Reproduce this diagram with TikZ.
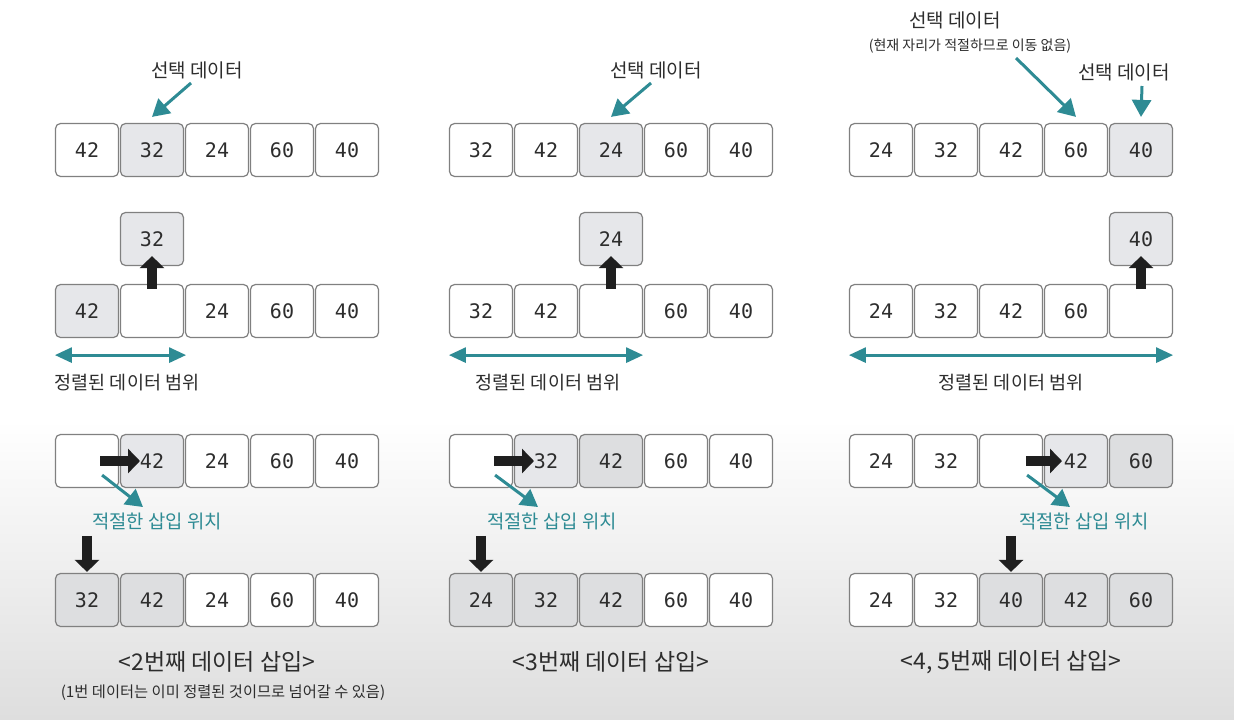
\documentclass[tikz,border=0pt]{standalone}
\usepackage{fontspec}
\setmainfont{Noto Sans CJK KR}
\newfontfamily\numfont{DejaVu Sans Mono}
\usetikzlibrary{arrows.meta}
\definecolor{tealline}{RGB}{46,139,148}
\definecolor{boxedge}{RGB}{128,128,128}
\definecolor{selfill}{RGB}{230,231,234}
\definecolor{sortfill}{RGB}{221,222,224}
\definecolor{inktext}{RGB}{45,45,45}
\tikzset{
  cell/.style={draw=boxedge, line width=1.2pt, rounded corners=5pt, fill=white,
    minimum width=63pt, minimum height=53pt, font=\numfont\fontsize{20}{20}\selectfont, text=inktext},
  selcell/.style={cell, fill=selfill},
  sortcell/.style={cell, fill=sortfill},
  blk/.style={-{Triangle[length=12pt,width=24pt]}, line width=10pt, draw=black!88},
  tealarr/.style={-{Triangle[length=17pt,width=19pt]}, line width=3pt, draw=tealline},
  rangearr/.style={{Triangle[length=17pt,width=15pt]}-{Triangle[length=17pt,width=15pt]}, line width=2.8pt, draw=tealline},
  lbl/.style={font=\fontsize{19}{19}\selectfont, text=inktext},
  rlbl/.style={font=\fontsize{18.5}{19}\selectfont, text=inktext},
  tlbl/.style={font=\fontsize{18.8}{19}\selectfont, text=tealline},
  note/.style={font=\fontsize{14}{15}\selectfont, text=inktext},
  titletext/.style={font=\fontsize{23}{24}\selectfont, text=inktext},
}
\begin{document}
\begin{tikzpicture}[x=1pt, y=-1pt]
% background
\fill[white] (0,0) rectangle (1234,720);
\shade[top color=white, bottom color=black!13] (0,420) rectangle (1234,720);
% 2nd insert
\begin{scope}
\foreach \v/\s [count=\i] in {42/cell,32/selcell,24/cell,60/cell,40/cell}
  \node[\s] (a\i) at (22+65*\i,150) {\v};
\node[lbl] (pick) at (197,70) {선택 데이터};
\coordinate (pickfrom) at (191,83);
\draw[tealarr] (pickfrom) -- ([yshift=6pt]a2.north);
\foreach \v/\s [count=\i] in {42/selcell,{}/cell,24/cell,60/cell,40/cell}
  \node[\s] (b\i) at (22+65*\i,311) {\v};
\node[selcell] (lift) at ([yshift=72pt]b2.center) {32};
\draw[blk] ([yshift=-5pt]b2.north) -- ([yshift=10pt]lift.south);
\draw[rangearr] ([yshift=-17pt]b1.south west) -- ([yshift=-17pt,xshift=2pt]b2.south east);
\node[rlbl] (range) at (127,383) {정렬된 데이터 범위};
\foreach \v/\s [count=\i] in {{}/cell,42/selcell,24/cell,60/cell,40/cell}
  \node[\s] (c\i) at (22+65*\i,461) {\v};
\draw[blk] ([xshift=13pt]c1.center) -- ([xshift=-12pt]c2.center);
\coordinate (fitto) at (143,507);
\draw[tealarr] ([xshift=-17pt,yshift=13pt]c1.south east) -- (fitto);
\node[tlbl] (fit) at (157,521) {적절한 삽입 위치};
\foreach \v/\s [count=\i] in {32/sortcell,42/sortcell,24/cell,60/cell,40/cell}
  \node[\s] (d\i) at (22+65*\i,600) {\v};
\draw[blk] ([yshift=37pt]d1.north) -- ([yshift=1pt]d1.north);
\node[titletext] (title) at (217,662) {<2번째 데이터 삽입>};
\node[note] (subnote) at (223,693) {\fontsize{15.3}{16}\selectfont(1번 데이터는 이미 정렬된 것이므로 넘어갈 수 있음)};
\end{scope}
% 3rd insert
\begin{scope}[xshift=394pt]
\foreach \v/\s [count=\i] in {32/cell,42/cell,24/selcell,60/cell,40/cell}
  \node[\s] (a\i) at (22+65*\i,150) {\v};
\node[lbl] (pick) at (262,70) {선택 데이터};
\coordinate (pickfrom) at (257,83);
\draw[tealarr] (pickfrom) -- ([yshift=6pt]a3.north);
\foreach \v/\s [count=\i] in {32/cell,42/cell,{}/cell,60/cell,40/cell}
  \node[\s] (b\i) at (22+65*\i,311) {\v};
\node[selcell] (lift) at ([yshift=72pt]b3.center) {24};
\draw[blk] ([yshift=-5pt]b3.north) -- ([yshift=10pt]lift.south);
\draw[rangearr] ([yshift=-17pt]b1.south west) -- ([yshift=-17pt]b3.south east);
\node[rlbl] (range) at (154,383) {정렬된 데이터 범위};
\foreach \v/\s [count=\i] in {{}/cell,32/selcell,42/sortcell,60/cell,40/cell}
  \node[\s] (c\i) at (22+65*\i,461) {\v};
\draw[blk] ([xshift=13pt]c1.center) -- ([xshift=-12pt]c2.center);
\coordinate (fitto) at (144,507);
\draw[tealarr] ([xshift=-18pt,yshift=13pt]c1.south east) -- (fitto);
\node[tlbl] (fit) at (158,521) {적절한 삽입 위치};
\foreach \v/\s [count=\i] in {24/sortcell,32/sortcell,42/sortcell,60/cell,40/cell}
  \node[\s] (d\i) at (22+65*\i,600) {\v};
\draw[blk] ([yshift=37pt]d1.north) -- ([yshift=1pt]d1.north);
\node[titletext] (title) at (217,662) {<3번째 데이터 삽입>};
\end{scope}
% 4th, 5th insert
\begin{scope}[xshift=794pt]
\foreach \v/\s [count=\i] in {24/cell,32/cell,42/cell,60/cell,40/selcell}
  \node[\s] (a\i) at (22+65*\i,150) {\v};
\node[lbl] (pick) at (161,20) {선택 데이터};
\node[note] (stay) at (176,46) {(현재 자리가 적절하므로 이동 없음)};
\coordinate (stayfrom) at (222,58);
\draw[tealarr] (stayfrom) -- ([yshift=6pt]a4.north);
\node[lbl] (pick2) at (330,72) {선택 데이터};
\coordinate (pickfrom) at (348,86);
\draw[tealarr] (pickfrom) -- ([yshift=6pt]a5.north);
\foreach \v/\s [count=\i] in {24/cell,32/cell,42/cell,60/cell,{}/cell}
  \node[\s] (b\i) at (22+65*\i,311) {\v};
\node[selcell] (lift) at ([yshift=72pt]b5.center) {40};
\draw[blk] ([yshift=-5pt]b5.north) -- ([yshift=10pt]lift.south);
\draw[rangearr] ([yshift=-17pt]b1.south west) -- ([yshift=-17pt]b5.south east);
\node[rlbl] (range) at (217,383) {정렬된 데이터 범위};
\foreach \v/\s [count=\i] in {24/cell,32/cell,{}/cell,42/selcell,60/sortcell}
  \node[\s] (c\i) at (22+65*\i,461) {\v};
\draw[blk] ([xshift=15pt]c3.center) -- ([xshift=-14pt]c4.center);
\coordinate (fitto) at (276,507);
\draw[tealarr] ([xshift=-16pt,yshift=13pt]c3.south east) -- (fitto);
\node[tlbl] (fit) at (290,521) {적절한 삽입 위치};
\foreach \v/\s [count=\i] in {24/cell,32/cell,40/sortcell,42/sortcell,60/sortcell}
  \node[\s] (d\i) at (22+65*\i,600) {\v};
\draw[blk] ([yshift=37pt]d3.north) -- ([yshift=1pt]d3.north);
\node[titletext] (title) at (217,662) {<4, 5번째 데이터 삽입>};
\end{scope}
\end{tikzpicture}
\end{document}
